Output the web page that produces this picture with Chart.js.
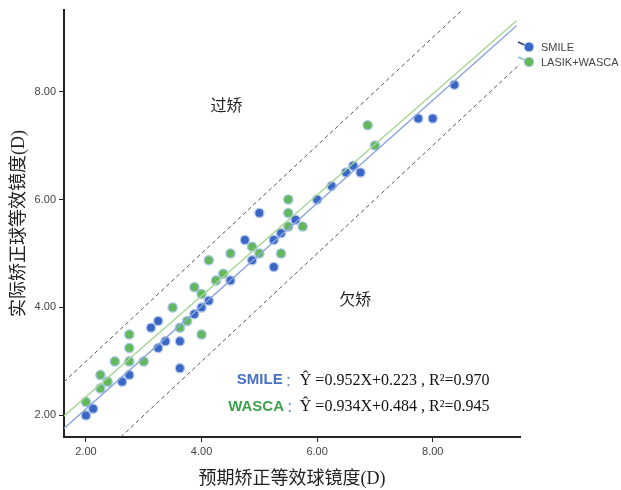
<!DOCTYPE html>
<html>
<head>
<meta charset="utf-8">
<script src="https://cdn.jsdelivr.net/npm/chart.js@4"></script>
<style>
body{margin:0;background:#fff}
</style>
</head>
<body>
<canvas id="chart" width="621" height="490"></canvas>
<script>

// SMILE points (expected, actual)
const smileX=[2.0,2.125,2.625,2.75,3.25,3.375,3.125,3.25,3.625,3.625,3.875,4.0,4.125,4.5,4.75,4.875,5.0,5.25,5.25,5.375,5.625,6.0,6.25,6.5,6.625,6.75,7.75,8.0,8.375]
const smileY=[2.0,2.125,2.625,2.75,3.25,3.375,3.625,3.75,3.375,2.875,3.875,4.0,4.125,4.5,5.25,4.875,5.75,5.25,4.75,5.375,5.625,6.0,6.25,6.5,6.625,6.5,7.5,7.5,8.125]

// LASIK+WASCA points
const wascaX=[2.0,2.25,2.25,2.375,2.5,2.75,2.75,2.75,3.0,3.5,3.625,3.75,3.875,4.0,4.0,4.125,4.25,4.375,4.5,4.875,5.0,5.375,5.5,5.5,5.5,5.75,6.875,7.0]
const wascaY=[2.25,2.5,2.75,2.625,3.0,3.0,3.25,3.5,3.0,4.0,3.625,3.75,4.375,4.25,3.5,4.875,4.5,4.625,5.0,5.125,5.0,5.0,5.5,5.75,6.0,5.5,7.375,7.0]

// fitted lines and +-1D limits, end points
const smileFit=[[1.62,1.76],[9.45,9.22]]
const wascaFit=[[1.62,1.99],[9.45,9.31]]
const upperLimit=[[1.62,2.62],[8.51,9.51]]
const lowerLimit=[[2.6,1.6],[9.51,8.51]]

const xTicks=[2,4,6,8]
const yTicks=[2,4,6,8]

const seriesNames=["SMILE","LASIK+WASCA"]
const eqNames=["SMILE","WASCA"]
const eqTexts=["Ŷ =0.952X+0.223 , R²=0.970","Ŷ =0.934X+0.484 , R²=0.945"]

const blue="#3a66c6"
const green="#62b85a"

function pts(xs,ys){
return xs.map((x,i)=>({x:x,y:ys[i]}))
}

function seg(a){
return a.map(p=>({x:p[0],y:p[1]}))
}

function lineSet(data,color,dash,w){
return {
type:"scatter",
data:seg(data),
showLine:true,
borderColor:color,
borderWidth:w,
borderDash:dash,
pointRadius:0,
fill:false
}
}

const notes={
id:"notes",
afterDatasetsDraw(chart){
const ctx=chart.ctx
const xs=chart.scales.x
const ys=chart.scales.y
ctx.save()
ctx.textBaseline="middle"

// region labels
ctx.fillStyle="#222"
ctx.font="16px 'Noto Sans CJK SC'"
ctx.textAlign="center"
ctx.fillText("过矫",xs.getPixelForValue(4.43),ys.getPixelForValue(7.76))
ctx.fillText("欠矫",xs.getPixelForValue(6.66),ys.getPixelForValue(4.15))

// equations
ctx.textAlign="left"
let eqX=[4.61,4.46]
let eqY=[2.65,2.16]
let eqCol=["#4a72c4","#3ea24c"]
let restX=xs.getPixelForValue(5.7)
for(let i=0;i<2;i++){
let x=xs.getPixelForValue(eqX[i])
let y=ys.getPixelForValue(eqY[i])
ctx.font="bold 15px 'Liberation Sans'"
ctx.fillStyle=eqCol[i]
ctx.fillText(eqNames[i],x,y)
let endName=x+ctx.measureText(eqNames[i]).width
ctx.fillStyle="#7d9bd6"
ctx.font="15px 'Noto Sans CJK SC'"
ctx.fillText("：",endName+2,y)
ctx.fillStyle="#111"
ctx.font="16px 'Liberation Serif'"
ctx.fillText(eqTexts[i],restX,y)
}

// legend
let lx=chart.chartArea.right
let ly=[47,62]
let cols=[blue,green]
let lineCols=["#2a3f6e","#8fc0d8"]
ctx.font="11px 'Liberation Sans'"
for(let i=0;i<2;i++){
ctx.strokeStyle=lineCols[i]
ctx.lineWidth=1.5
ctx.beginPath()
ctx.moveTo(lx-2,ly[i]-5)
ctx.lineTo(lx+9,ly[i])
ctx.stroke()
ctx.beginPath()
ctx.arc(lx+9,ly[i],4.8,0,Math.PI*2)
ctx.fillStyle=cols[i]
ctx.fill()
ctx.strokeStyle="#b5c8ec"
ctx.lineWidth=1
ctx.stroke()
ctx.fillStyle="#444"
ctx.fillText(seriesNames[i],lx+21,ly[i]+1)
}
ctx.restore()
}
}

const chart=new Chart(document.getElementById("chart"),{
type:"scatter",
data:{
datasets:[
lineSet(upperLimit,"#555",[4,3],1),
lineSet(lowerLimit,"#555",[4,3],1),
lineSet(smileFit,"#8aa5da",[],1.4),
lineSet(wascaFit,"#a6d694",[],1.4),
{
label:seriesNames[0],
data:pts(smileX,smileY),
backgroundColor:blue,
borderColor:"#b5c8ec",
borderWidth:1.4,
pointRadius:4.6
},
{
label:seriesNames[1],
data:pts(wascaX,wascaY),
backgroundColor:green,
borderColor:"#a9c6ea",
borderWidth:1.4,
pointRadius:4.6
}
]
},
options:{
responsive:false,
animation:false,
layout:{padding:{top:10,right:101,left:0,bottom:0}},
plugins:{legend:{display:false},tooltip:{enabled:false}},
scales:{
x:{
min:1.62,
max:9.51,
afterBuildTicks:s=>{s.ticks=xTicks.map(v=>({value:v}))},
afterFit:s=>{s.height=53},
ticks:{color:"#444",font:{family:"Liberation Sans",size:11},padding:3,callback:v=>v.toFixed(2),maxRotation:0},
grid:{drawOnChartArea:false,drawTicks:true,tickLength:5,color:"#222"},
border:{display:true,color:"#222",width:2},
title:{display:true,text:"预期矫正等效球镜度(D)",color:"#222",font:{family:"'Liberation Serif','Noto Sans CJK SC'",size:18},padding:{top:0,bottom:0}}
},
y:{
min:1.6,
max:9.51,
afterBuildTicks:s=>{s.ticks=yTicks.map(v=>({value:v}))},
afterFit:s=>{s.width=64},
ticks:{color:"#444",font:{family:"Liberation Sans",size:11},padding:3,callback:v=>v.toFixed(2)},
grid:{drawOnChartArea:false,drawTicks:true,tickLength:5,color:"#222"},
border:{display:true,color:"#222",width:2},
title:{display:true,text:"实际矫正球等效镜度(D)",color:"#222",font:{family:"'Liberation Serif','Noto Sans CJK SC'",size:18},padding:{top:8,bottom:0}}
}
}
},
plugins:[notes]
})

</script>
</body>
</html>
